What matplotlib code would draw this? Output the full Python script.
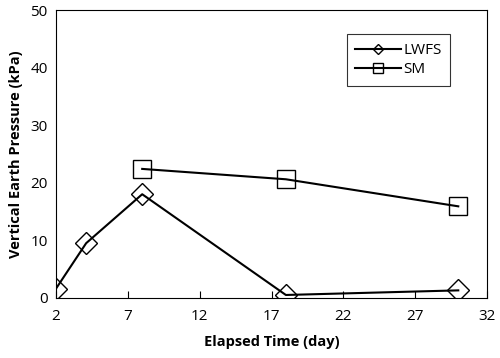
import matplotlib.pyplot as plt

plt.rcParams['font.family'] = ['Open Sans', 'DejaVu Sans']

lwfs_days = [2, 4.1, 8, 18, 30]
lwfs_pressure = [1.6, 9.5, 18.0, 0.5, 1.3]
sm_days = [8, 18, 30]
sm_pressure = [22.4, 20.6, 15.9]

fig = plt.figure(figsize=(5, 3.58), dpi=100)
ax = fig.add_axes([0.112, 0.168, 0.862, 0.804])

ax.plot(lwfs_days, lwfs_pressure, color='black', lw=1.5, marker='D', ms=11,
        mfc='none', mec='black', mew=1.0, label='LWFS')
ax.plot(sm_days, sm_pressure, color='black', lw=1.5, marker='s', ms=13,
        mfc='none', mec='black', mew=1.0, label='SM')

ax.set_xlim(2, 32)
ax.set_ylim(0, 50)
ax.set_xticks(range(2, 33, 5))
ax.set_yticks(range(0, 51, 10))
ax.tick_params(axis='x', direction='in', length=5, labelsize=11, pad=8)
ax.tick_params(axis='y', direction='in', length=0, labelsize=11, pad=6)
for s in ax.spines.values():
    s.set_linewidth(0.8)

ax.set_xlabel('Elapsed Time (day)', fontsize=10.5, fontweight='bold', labelpad=8)
ax.set_ylabel('Vertical Earth Pressure (kPa)', fontsize=10.5, fontweight='bold', labelpad=5)

leg = ax.legend(loc='upper left', bbox_to_anchor=(0.675, 0.915), fancybox=False,
                edgecolor='black', markerscale=0.5, fontsize=11,
                handlelength=3.0, handletextpad=0.15, borderpad=0.55,
                labelspacing=0.3, borderaxespad=0)
leg.get_frame().set_linewidth(0.8)

fig.savefig('out.png')
